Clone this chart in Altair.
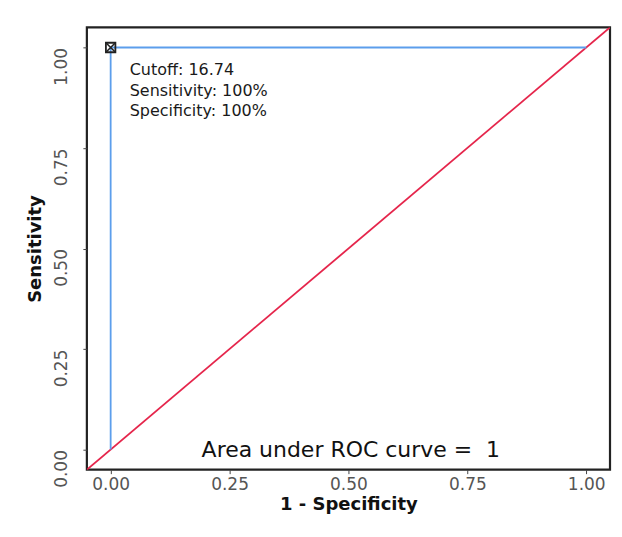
import altair as alt
import pandas as pd

# ROC curve points
fpr = [0.0, 0.0, 1.0]
tpr = [0.0, 1.0, 1.0]
# reference diagonal (y = x)
diag = [-0.1, 1.1]
# optimal cutoff point
cut_x = [0.0]
cut_y = [1.0]
ann_lines = ["Cutoff: 16.74", "Sensitivity: 100%", "Specificity: 100%"]
auc_label = "Area under ROC curve =\u00a0 1"
ticks = [0.0, 0.25, 0.5, 0.75, 1.0]

roc = pd.DataFrame({"x": fpr, "y": tpr, "o": range(len(fpr))})
dg = pd.DataFrame({"x": diag, "y": diag})
pt = pd.DataFrame({"x": cut_x, "y": cut_y})
ann = pd.DataFrame({"x": [0.04] * 3, "y": [0.945, 0.893, 0.841], "t": ann_lines})
auc = pd.DataFrame({"x": [0.505], "y": [0.0], "t": [auc_label]})

dom = [-0.05, 1.05]
xs = alt.Scale(domain=dom, nice=False, zero=False)
ys = alt.Scale(domain=dom, nice=False, zero=False)

xax = alt.Axis(values=ticks, format=".2f", title="1 - Specificity", grid=False,
               labelFontSize=17, labelColor="#555555", labelFont="DejaVu Sans",
               titleFontSize=18, titleFont="DejaVu Sans", titleFontWeight="bold",
               titleColor="#111111", tickColor="#444444", tickSize=4, domain=False,
               labelPadding=3, titlePadding=3)
yax = alt.Axis(values=ticks, format=".2f", title="Sensitivity", grid=False,
               labelFontSize=17, labelColor="#555555", labelFont="DejaVu Sans",
               labelAngle=270, labelAlign="right", labelBaseline="bottom",
               titleFontSize=18, titleFont="DejaVu Sans", titleFontWeight="bold",
               titleColor="#111111", tickColor="#444444", tickSize=4, domain=False,
               labelPadding=12, titlePadding=8)

diag_line = alt.Chart(dg).mark_line(color="#E5254B", strokeWidth=1.8, clip=True).encode(
    x=alt.X("x:Q", scale=xs, axis=xax), y=alt.Y("y:Q", scale=ys, axis=yax))
roc_line = alt.Chart(roc).mark_line(color="#5C9EEC", strokeWidth=1.8).encode(
    x=alt.X("x:Q", scale=xs), y=alt.Y("y:Q", scale=ys), order="o:Q")
sq = alt.Chart(pt).mark_point(shape="square", size=90, filled=False, color="#222222",
                              strokeWidth=1.8, opacity=1).encode(
    x=alt.X("x:Q", scale=xs), y=alt.Y("y:Q", scale=ys))
xmark = alt.Chart(pt).mark_point(shape="M-1,-1L1,1M1,-1L-1,1", size=90, filled=False,
                                 color="#222222", strokeWidth=1.6, opacity=1).encode(
    x=alt.X("x:Q", scale=xs), y=alt.Y("y:Q", scale=ys))
ann_text = alt.Chart(ann).mark_text(align="left", baseline="middle", fontSize=16,
                                    font="DejaVu Sans", color="#1a1a1a").encode(
    x=alt.X("x:Q", scale=xs), y=alt.Y("y:Q", scale=ys), text="t:N")
auc_text = alt.Chart(auc).mark_text(align="center", baseline="middle", fontSize=22,
                                    font="DejaVu Sans", color="#111111").encode(
    x=alt.X("x:Q", scale=xs), y=alt.Y("y:Q", scale=ys), text="t:N")

chart = alt.layer(diag_line, roc_line, sq, xmark, ann_text, auc_text).properties(
    width=524, height=443,
    autosize=alt.AutoSizeParams(type="none"),
    padding={"left": 79, "top": 19, "right": 4, "bottom": 50},
).configure(background="white").configure_view(stroke="#222222", strokeWidth=2.2)

chart.save("out.html", embed_options={"renderer": "svg", "actions": False})
